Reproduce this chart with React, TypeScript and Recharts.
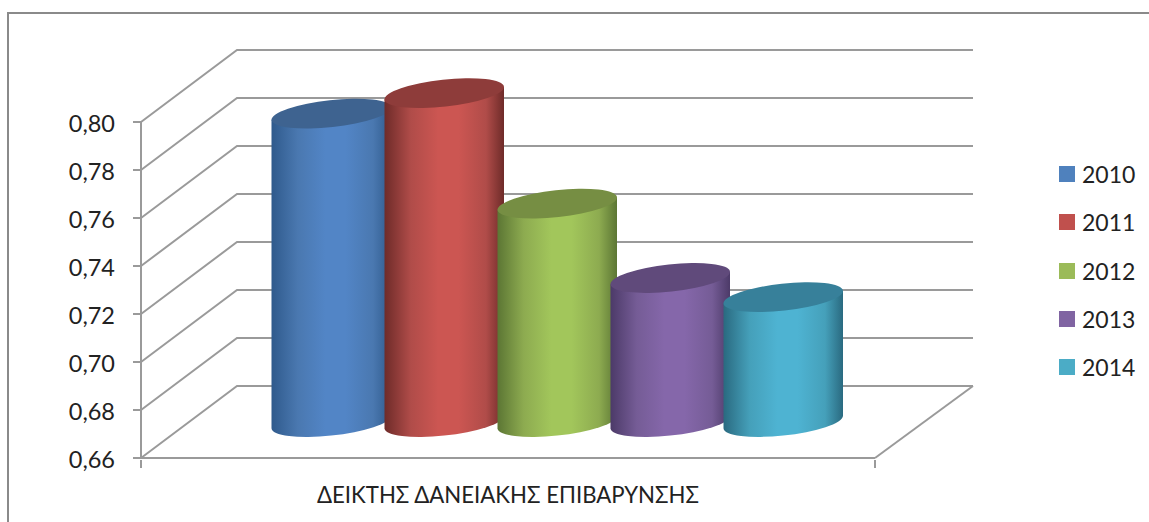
import { BarChart, Bar, XAxis, YAxis, CartesianGrid, Legend } from 'recharts'

const categories = ['ΔΕΙΚΤΗΣ ΔΑΝΕΙΑΚΗΣ ΕΠΙΒΑΡΥΝΣΗΣ']
const years = ['2010', '2011', '2012', '2013', '2014']
const values = [0.7885, 0.797, 0.751, 0.72, 0.712]
const yTicks = [0.66, 0.68, 0.7, 0.72, 0.74, 0.76, 0.78, 0.8]

const baseColors = ['#4f81bd', '#c0504d', '#9bbb59', '#8064a2', '#4bacc6']
const edgeColors = ['#2f5a8c', '#6e2b29', '#5c7634', '#4c3a68', '#2a6a80']
const midColors = ['#4a78b0', '#b04c49', '#8dab50', '#755c96', '#45a0ba']
const brightColors = ['#5285c6', '#cc5652', '#a2c65b', '#8567aa', '#4eb3d2']
const topColors = ['#3e6390', '#8e3c3a', '#768e43', '#604a7b', '#37809a']

const chartRow: Record<string, string | number> = { name: categories[0] }
years.forEach((year, i) => {
  chartRow[year] = values[i]
})
const chartData = [chartRow]

const FONT = "Lato, 'Open Sans', sans-serif"
const LINE = '#9a9a9a'
// depth of the 3D box: how far the back wall sits from the front axes
const DEPTH_X = 96
const DEPTH_Y = 72
const TILT = -6.2
const ELLIPSE_B = 13.5

function Cylinder(props: any) {
  const { x, y, width, height, index } = props
  const i = years.indexOf(props.dataKey ?? years[index])
  const w = width / 2
  const cx = x + w + DEPTH_X / 2 + 1.5
  const top = y - DEPTH_Y / 2
  const bottom = y + height - DEPTH_Y / 2
  const rad = (TILT * Math.PI) / 180
  const a = Math.sqrt((w * w - ELLIPSE_B * ELLIPSE_B * Math.sin(rad) ** 2) / Math.cos(rad) ** 2)
  // vertical offset of the ellipse's leftmost and rightmost points
  const lean = ((a * a - ELLIPSE_B * ELLIPSE_B) * Math.abs(Math.sin(rad) * Math.cos(rad))) / w
  const body = [
    `M${cx - w},${top + lean}`,
    `L${cx - w},${bottom + lean}`,
    `A${a},${ELLIPSE_B} ${TILT} 0 0 ${cx + w},${bottom - lean}`,
    `L${cx + w},${top - lean}`,
    'Z',
  ].join(' ')
  return (
    <g>
      <defs>
        <linearGradient id={`cyl-${i}`} x1="0" y1="0" x2="1" y2="0">
          <stop offset="0" stopColor={edgeColors[i]} />
          <stop offset="0.22" stopColor={midColors[i]} />
          <stop offset="0.45" stopColor={brightColors[i]} />
          <stop offset="0.62" stopColor={brightColors[i]} />
          <stop offset="0.85" stopColor={midColors[i]} />
          <stop offset="1" stopColor={edgeColors[i]} />
        </linearGradient>
      </defs>
      <path d={body} fill={`url(#cyl-${i})`} />
      <ellipse
        cx={cx}
        cy={top}
        rx={a}
        ry={ELLIPSE_B}
        fill={topColors[i]}
        transform={`rotate(${TILT} ${cx} ${top})`}
      />
    </g>
  )
}

// grid line on the side wall and back wall for one y tick
function WallLine(props: any) {
  const { x1, x2, y1, index } = props
  const backLeft = x1 + DEPTH_X
  const backRight = x2 + DEPTH_X + 2
  const backY = y1 - DEPTH_Y
  return (
    <g key={index} fill="none" stroke={LINE} strokeWidth={2}>
      <path d={`M${x1},${y1} L${backLeft},${backY} L${backRight},${backY}`} />
      {Math.abs(y1 - 458) < 1 && <path d={`M${x2},${y1} L${backRight},${backY}`} />}
    </g>
  )
}

function CategoryTick(props: any) {
  const { x, y, payload, width } = props
  const half = width / 2
  return (
    <g>
      <line x1={x - half} x2={x - half} y1={y - 6} y2={y + 2} stroke={LINE} strokeWidth={2} />
      <line x1={x + half} x2={x + half} y1={y - 6} y2={y + 2} stroke={LINE} strokeWidth={2} />
      <text x={x} y={y + 37} textAnchor="middle" fontFamily={FONT} fontSize={22.2} fill="#222">
        {payload.value}
      </text>
    </g>
  )
}

function ValueTick(props: any) {
  const { x, y, payload, textAnchor } = props
  return (
    <text x={x} y={y + 10} textAnchor={textAnchor} fontFamily={FONT} fontSize={23.5} fill="#222">
      {payload.value.toFixed(2).replace('.', ',')}
    </text>
  )
}

function LegendList({ payload }: any) {
  return (
    <div style={{ fontFamily: FONT, fontSize: 23, color: '#222' }}>
      {payload.map((entry: any) => (
        <div key={entry.value} style={{ display: 'flex', alignItems: 'center', height: 48.25 }}>
          <span style={{ width: 16, height: 16, background: entry.color, marginRight: 7 }} />
          {entry.value}
        </div>
      ))}
    </div>
  )
}

export default function App() {
  return (
    <div style={{ position: 'fixed', left: 0, top: 0, width: 1149, height: 522, overflow: 'hidden', background: '#fff' }}>
      <div
        style={{
          position: 'absolute',
          left: 7,
          top: 12,
          width: 1300,
          height: 700,
          border: '2px solid #8a8a8a',
        }}
      />
      <div style={{ position: 'absolute', left: 0, top: 0 }}>
        <BarChart
          width={1149}
          height={522}
          data={chartData}
          margin={{ top: 122, right: 274, bottom: 0, left: 0 }}
          barSize={119.5}
          barGap={-6.5}
        >
          <CartesianGrid horizontal={(p: any) => <WallLine {...p} />} vertical={false} />
          <XAxis
            dataKey="name"
            height={64}
            axisLine={{ stroke: LINE, strokeWidth: 2 }}
            tickLine={false}
            tick={<CategoryTick />}
            interval={0}
          />
          <YAxis
            width={141}
            domain={[0.66, 0.8]}
            ticks={yTicks}
            interval={0}
            tickSize={8}
            tickMargin={18}
            axisLine={{ stroke: LINE, strokeWidth: 2 }}
            tickLine={{ stroke: LINE, strokeWidth: 2 }}
            tick={<ValueTick />}
          />
          <Legend
            layout="vertical"
            align="center"
            verticalAlign="middle"
            wrapperStyle={{ left: 1059, top: 150, width: 90 }}
            content={<LegendList />}
          />
          {years.map((year, i) => (
            <Bar key={year} dataKey={year} name={year} fill={baseColors[i]} shape={<Cylinder />} isAnimationActive={false} />
          ))}
        </BarChart>
      </div>
    </div>
  )
}
